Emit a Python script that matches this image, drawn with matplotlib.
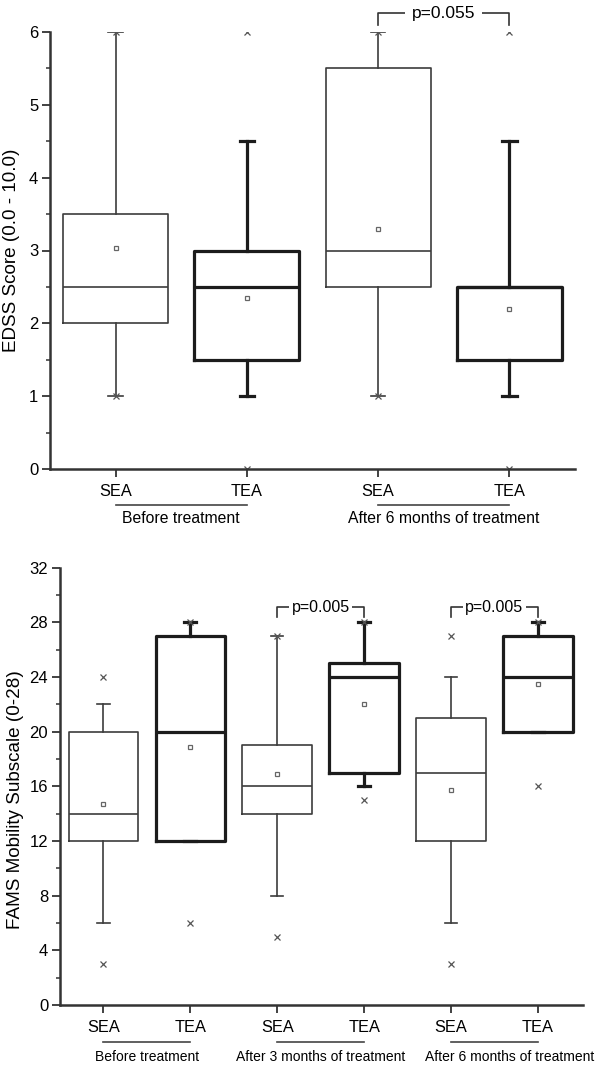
import matplotlib.pyplot as plt
from matplotlib import transforms

plt.rcParams['font.family'] = ['Liberation Sans', 'DejaVu Sans']

# --- EDSS (top panel) ---
edss_ticks = ['SEA', 'TEA', 'SEA', 'TEA']
edss_q1 = [2.0, 1.5, 2.5, 1.5]
edss_med = [2.5, 2.5, 3.0, 2.5]
edss_q3 = [3.5, 3.0, 5.5, 2.5]
edss_lo = [1.0, 1.0, 1.0, 1.0]
edss_hi = [6.0, 4.5, 6.0, 4.5]
edss_mean = [3.04, 2.35, 3.3, 2.2]
edss_out = [[6, 1], [6, 0], [6, 1], [6, 0]]
edss_groups = ['Before treatment', 'After 6 months of treatment']
edss_p = ['p=0.055']

# --- FAMS mobility (bottom panel) ---
fams_ticks = ['SEA', 'TEA', 'SEA', 'TEA', 'SEA', 'TEA']
fams_q1 = [12, 12, 14, 17, 12, 20]
fams_med = [14, 20, 16, 24, 17, 24]
fams_q3 = [20, 27, 19, 25, 21, 27]
fams_lo = [6, 12, 8, 16, 6, 20]
fams_hi = [22, 28, 27, 28, 24, 28]
fams_mean = [14.7, 18.9, 16.9, 22.0, 15.7, 23.5]
fams_out = [[24, 3], [28, 6], [27, 5], [28, 15], [27, 3], [28, 16]]
fams_groups = ['Before treatment', 'After 3 months of treatment',
               'After 6 months of treatment']
fams_p = ['p=0.005', 'p=0.005']


def make_stats(q1, med, q3, lo, hi, mean, out):
    return [dict(q1=a, med=b, q3=c, whislo=d, whishi=e, mean=f, fliers=g)
            for a, b, c, d, e, f, g in zip(q1, med, q3, lo, hi, mean, out)]


def draw_boxes(ax, stats, capw):
    pos = list(range(1, len(stats) + 1))
    for thick in (False, True):
        lw = 2.3 if thick else 1.2
        col = '#1c1c1c' if thick else '#3c3c3c'
        idx = [i for i in range(len(stats)) if (i % 2 == 1) == thick]
        ax.bxp([stats[i] for i in idx], positions=[pos[i] for i in idx],
               widths=0.8, capwidths=capw, showmeans=True, manage_ticks=False,
               boxprops=dict(color=col, lw=lw),
               whiskerprops=dict(color=col, lw=lw),
               capprops=dict(color=col, lw=lw),
               medianprops=dict(color=col, lw=lw),
               meanprops=dict(marker='s', markersize=3.5, markerfacecolor='none',
                              markeredgecolor='#666666', markeredgewidth=0.9),
               flierprops=dict(marker='x', markersize=4.5, markeredgecolor='#555555',
                               markeredgewidth=0.9))


def style_axis(ax, ticks, xlim, ylim, major, minor, ylabel, label_x):
    for s in ('top', 'right'):
        ax.spines[s].set_visible(False)
    for s in ('left', 'bottom'):
        ax.spines[s].set_linewidth(1.8)
        ax.spines[s].set_color('#333333')
    ax.set_xlim(*xlim)
    ax.set_ylim(*ylim)
    ax.set_xticks(range(1, len(ticks) + 1))
    ax.set_xticklabels(ticks, fontsize=11.8)
    ax.set_yticks(major)
    ax.set_yticks(minor, minor=True)
    ax.tick_params(axis='x', length=5.5, width=1.3, pad=5, color='#333333')
    ax.tick_params(axis='y', which='major', length=5.5, width=1.3, pad=3,
                   labelsize=12, color='#333333')
    ax.tick_params(axis='y', which='minor', length=3, width=1.1, color='#333333')
    ax.set_ylabel(ylabel, fontsize=13.6, va='center')
    ax.yaxis.set_label_coords(label_x, 0.5)


def group_labels(ax, groups, line_y, text_y, fs, text_x=None):
    tr = transforms.blended_transform_factory(ax.transData, ax.transAxes)
    for k, g in enumerate(groups):
        a, b = 2 * k + 1, 2 * k + 2
        ax.plot([a, b], [line_y, line_y], color='#444444', lw=1.2,
                transform=tr, clip_on=False)
        x = (a + b) / 2 if text_x is None or text_x[k] is None else text_x[k]
        ax.text(x, text_y, g, transform=tr, ha='center', va='center', fontsize=fs)


def p_bracket(ax, a, b, y, drop, text, fs, pad):
    ax.plot([a, a, b, b], [y - drop, y, y, y - drop], color='#333333', lw=1.2,
            clip_on=False)
    ax.text((a + b) / 2, y, text, ha='center', va='center', fontsize=fs,
            bbox=dict(fc='white', ec='none', pad=pad), clip_on=False)


fig = plt.figure(figsize=(6, 10.65), dpi=100)

ax1 = fig.add_axes([50 / 600, 1 - 469 / 1065, 525 / 600, 437 / 1065])
draw_boxes(ax1, make_stats(edss_q1, edss_med, edss_q3, edss_lo, edss_hi,
                           edss_mean, edss_out), 0.11)
style_axis(ax1, edss_ticks, (0.5, 4.5), (0, 6), range(0, 7),
           [0.5 + i for i in range(6)], 'EDSS Score (0.0 - 10.0)', -0.074)
group_labels(ax1, edss_groups, -0.083, -0.113, 11.3)
p_bracket(ax1, 3, 4, 6.26, 0.16, edss_p[0], 12.5, 5)

ax2 = fig.add_axes([60 / 600, 1 - 1005 / 1065, 523 / 600, 437.3 / 1065])
draw_boxes(ax2, make_stats(fams_q1, fams_med, fams_q3, fams_lo, fams_hi,
                           fams_mean, fams_out), 0.14)
style_axis(ax2, fams_ticks, (0.5, 6.52), (0, 32), range(0, 33, 4),
           range(2, 32, 4), 'FAMS Mobility Subscale (0-28)', -0.085)
ax2.yaxis.set_label_coords(-0.085, 0.47)
group_labels(ax2, fams_groups, -0.085, -0.12, 10, [None, None, 5.68])
p_bracket(ax2, 3, 4, 29.1, 0.7, fams_p[0], 11.5, 1.5)
p_bracket(ax2, 5, 6, 29.1, 0.7, fams_p[1], 11.5, 1.5)

fig.savefig('out.png', dpi=100)
